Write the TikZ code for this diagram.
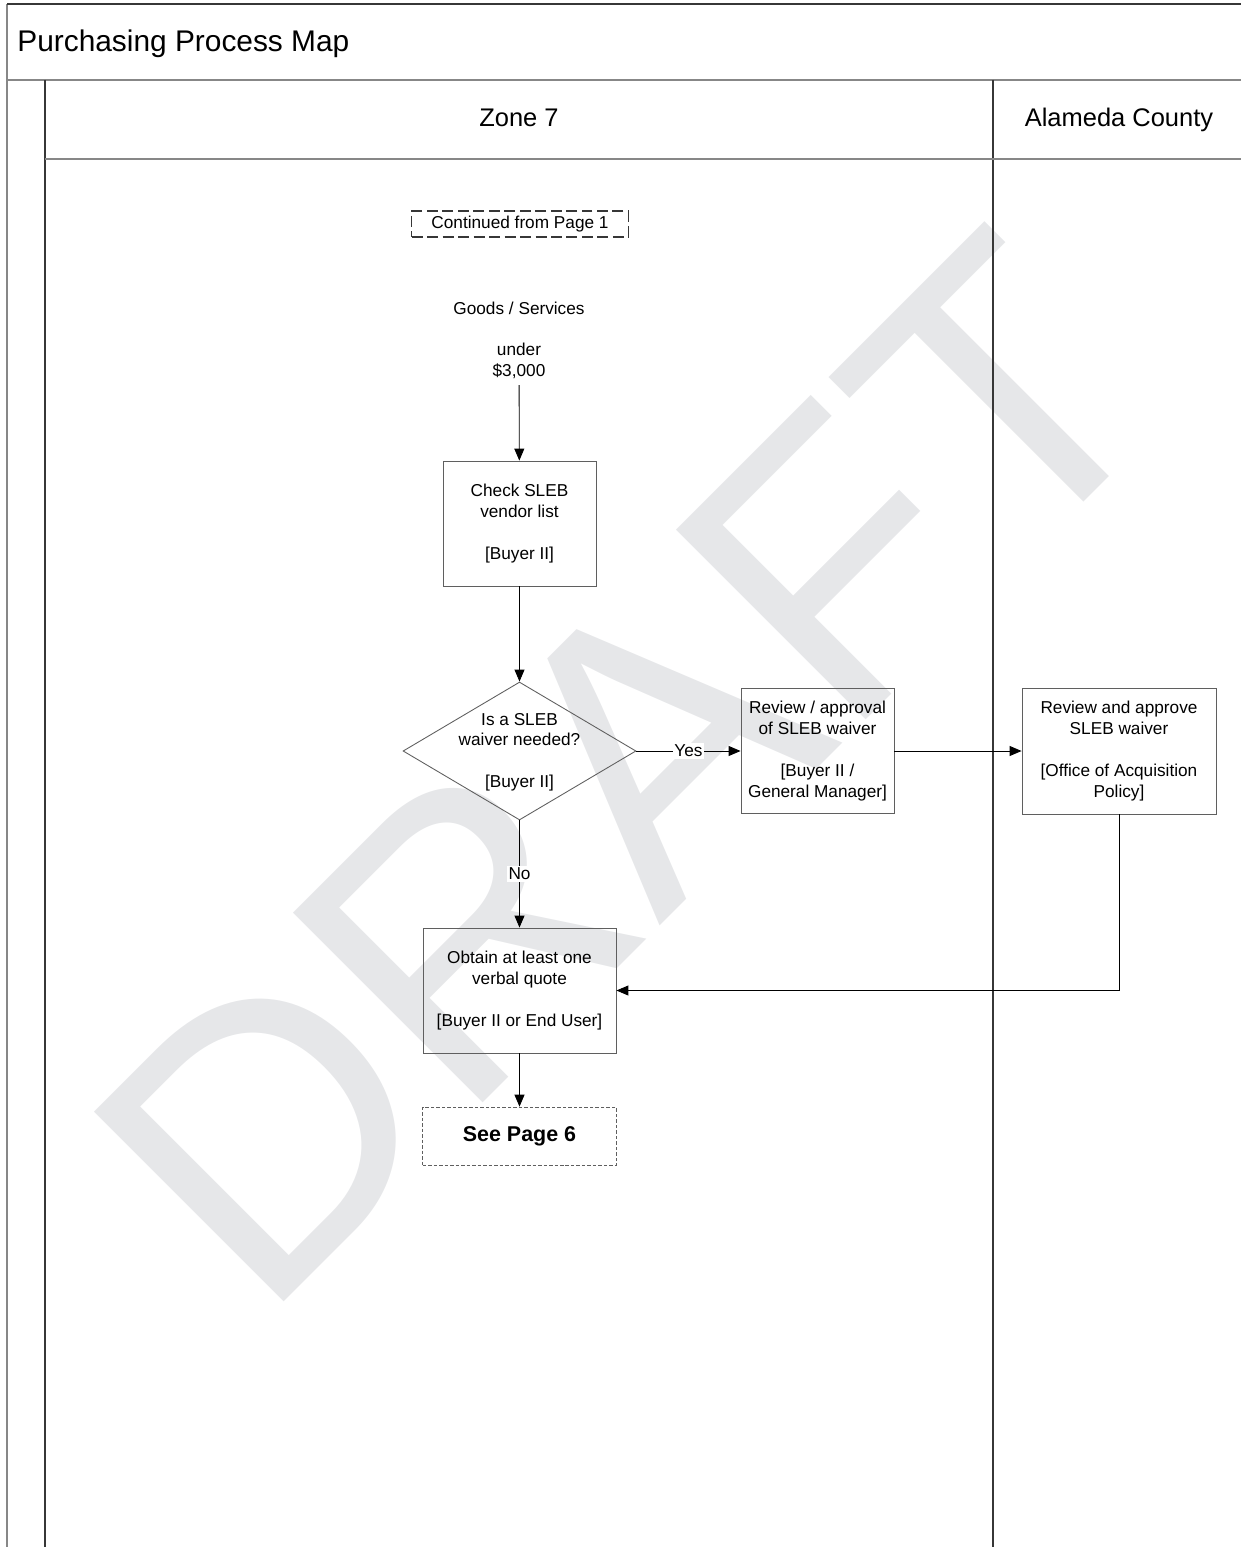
\documentclass[tikz,border=0pt]{standalone}
\usepackage{fontspec}
\setmainfont{Liberation Sans}
\usetikzlibrary{shapes.geometric,arrows.meta}
\definecolor{boxline}{RGB}{95,95,95}
\definecolor{laneline}{RGB}{55,55,55}
\definecolor{frameline}{RGB}{135,135,135}
\definecolor{draftgray}{RGB}{230,231,233}

\begin{document}
\begin{tikzpicture}[x=0.02cm,y=-0.02cm,
        txt/.style={font=\fontsize{9.8}{11.9}\selectfont, align=center},
        procbox/.style={txt, draw=boxline, line width=0.5pt, minimum width=3.06cm, minimum height=2.5cm, inner sep=0pt},
        decision/.style={diamond, draw=boxline, line width=0.5pt, minimum width=4.66cm, minimum height=2.76cm, inner sep=0pt},
        flow/.style={-{Triangle[length=0.24cm,width=0.2cm]}, line width=0.5pt},
        lbl/.style={txt, fill=white, inner sep=1pt},
        lanehead/.style={font=\fontsize{14.5}{17}\selectfont, anchor=base}]
        \useasboundingbox (0,0) rectangle (1241,1547);

        % Watermark
        \node[font=\fontsize{222}{222}\selectfont, text=draftgray, rotate=45, anchor=base, inner sep=0pt] (draft) at (721,865) {DRAFT};

        % Frame
        \draw[frameline, line width=1.2pt] (7,1547) -- (7,4);
        \draw[laneline, line width=0.6pt] (7,4) -- (1241,4);
        \draw[frameline, line width=1.2pt] (7,80) -- (1241,80);
        \node[font=\fontsize{17}{20}\selectfont, anchor=base west, inner sep=0pt] (title) at (17,52) {Purchasing Process Map};

        % Lanes
        \draw[laneline, line width=0.7pt] (45,80) -- (45,1547);
        \draw[laneline, line width=0.6pt] (993,80) -- (993,1547);
        \draw[frameline, line width=0.6pt] (45,159) -- (1241,159);
        \node[lanehead] (zone) at (519,127) {Zone 7};
        \node[lanehead] (county) at (1119,127) {Alameda County};

        % Zone 7
        \node[txt, draw=laneline, line width=0.8pt, dash pattern=on 0.22cm off 0.09cm, minimum width=4.34cm, minimum height=0.52cm, inner sep=0pt] (cont) at (520,224) {Continued from Page 1};
        \node[txt] (goods) at (519,340.5) {Goods / Services\\[0.41cm]under\\\$3,000};
        \node[procbox] (check) at (519.5,523.5) {Check SLEB\\vendor list\\[0.41cm]{[Buyer II]}};
        \node[decision] (ask) at (519.5,751) {};
        \node[txt] (askq) at (519.5,752) {Is a SLEB\\waiver needed?\\[0.41cm]{[Buyer II]}};
        \node[procbox] (rev) at (817.5,751) {Review / approval\\of SLEB waiver\\[0.41cm]{[Buyer II /}\\General Manager]};
        \node[procbox, minimum width=3.86cm] (quote) at (519.5,990.5) {Obtain at least one\\verbal quote\\[0.41cm]{[Buyer II or End User]}};
        \node[draw=boxline, line width=0.4pt, dash pattern=on 0.07cm off 0.04cm, minimum width=3.88cm, minimum height=1.16cm, font=\bfseries\fontsize{12.2}{14}\selectfont] (seep6) at (519.5,1136) {See Page 6};

        % Alameda County
        \node[procbox, minimum width=3.88cm, minimum height=2.52cm] (appr) at (1119,751) {Review and approve\\SLEB waiver\\[0.41cm]{[Office of Acquisition}\\Policy]};

        % Arrows
        \draw[flow] (goods) -- (check);
        \draw[flow] (check) -- (ask);
        \draw[flow] (ask) -- node[lbl] {Yes} (rev);
        \draw[flow] (rev) -- (appr);
        \draw[flow] (appr) |- (quote);
        \draw[flow] (ask) -- node[lbl] {No} (quote);
        \draw[flow] (quote) -- (seep6);
    \end{tikzpicture}
\end{document}
